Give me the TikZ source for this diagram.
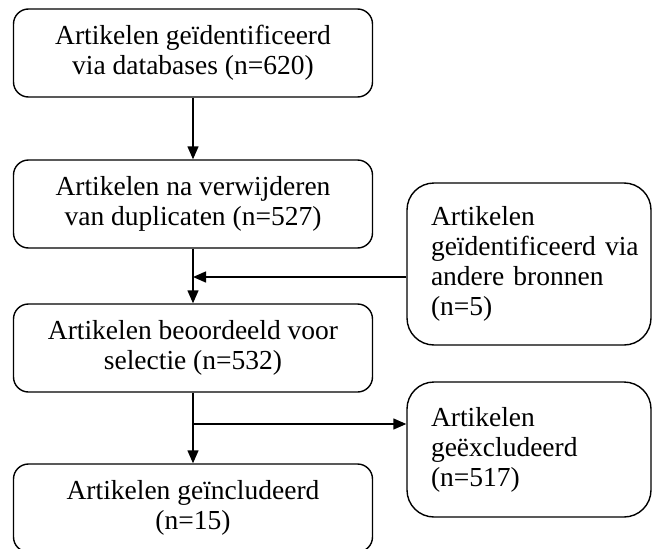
\documentclass[tikz,border=0pt]{standalone}
\usepackage{fontspec}
\setmainfont{Liberation Serif}
\usetikzlibrary{positioning,arrows.meta}

\begin{document}
\begin{tikzpicture}[
    x=1pt, y=-1pt,
    lbox/.style = {draw,rounded corners=15pt,minimum width=359pt,minimum height=88pt,align=center,font=\fontsize{27.5}{30}\selectfont,line width=1.4pt},
    rbox/.style = {draw,rounded corners=27pt,minimum width=244pt,text width=196pt,inner xsep=24pt,align=left,font=\fontsize{27.5}{30}\selectfont,line width=1.4pt},
    line width=1.4pt, ->, >={Triangle[length=13pt,width=11pt]}
  ]
  \useasboundingbox (0,0) rectangle (654,549);
  \clip (0,0) rectangle (654,549);

  \node[lbox] (ident)  at (193,53)  {Artikelen geïdentificeerd\\via databases (n=620)};
  \node[lbox] (dedup)  at (193,204) {Artikelen na verwijderen\\van duplicaten (n=527)};
  \node[lbox] (screen) at (193,348) {Artikelen beoordeeld voor\\selectie (n=532)};
  \node[lbox] (incl)   at (193,508) {Artikelen geïncludeerd\\(n=15)};

  \node[rbox,minimum height=162pt] (other) at (529,264)   {Artikelen\\geïdentificeerd~via\\andere bronnen\\(n=5)};
  \node[rbox,minimum height=135pt] (excl)  at (529,449.5) {Artikelen\\geëxcludeerd\\(n=517)};

  \coordinate (join)  at (193,277);
  \coordinate (split) at (193,424);

  \draw (ident) -- (dedup);
  \draw (dedup) -- (screen);
  \draw (join -| other.west) -- (join);
  \draw (screen) -- (incl);
  \draw (split) -- (split -| excl.west);

\end{tikzpicture}
\end{document}
